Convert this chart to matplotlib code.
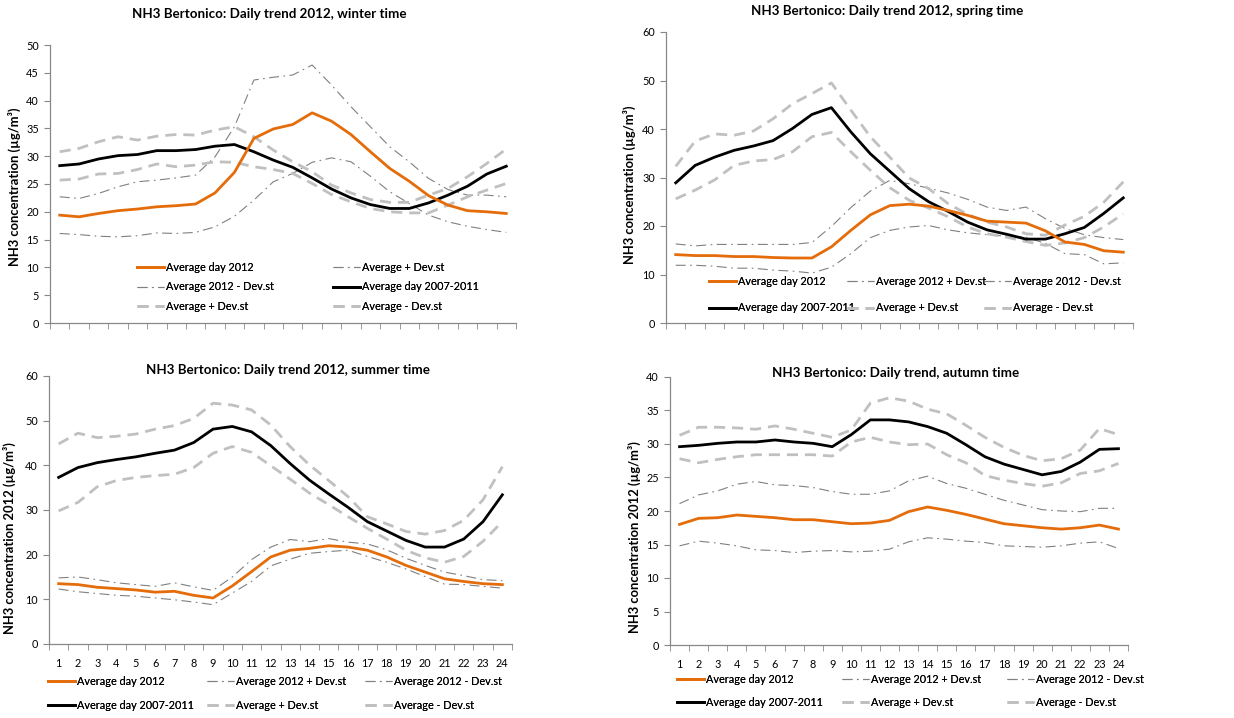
import numpy as np
import matplotlib
matplotlib.use("Agg")
import matplotlib.pyplot as plt

plt.rcParams['font.family'] = ['Lato', 'DejaVu Sans']

hours = list(range(1, 25))

# winter
winter_avg_2012 = [19.4, 19.1, 19.7, 20.2, 20.5, 20.9, 21.1, 21.4, 23.4, 27.1, 33.2, 34.9,
                   35.7, 37.8, 36.3, 33.9, 30.8, 27.8, 25.5, 22.9, 21.2, 20.2, 20.0, 19.7]
winter_avg_2012_plus = [22.7, 22.4, 23.3, 24.5, 25.4, 25.7, 26.1, 26.6, 29.9, 35.3, 43.7, 44.2,
                        44.6, 46.4, 42.8, 38.9, 35.3, 31.7, 29.0, 26.0, 24.0, 23.0, 23.0, 22.7]
winter_avg_2012_minus = [16.1, 15.9, 15.6, 15.5, 15.7, 16.2, 16.1, 16.3, 17.3, 19.2, 22.1, 25.4,
                         26.9, 28.9, 29.7, 29.0, 26.4, 23.6, 21.5, 19.4, 18.2, 17.4, 16.8, 16.3]
winter_avg_0711 = [28.3, 28.6, 29.5, 30.1, 30.3, 31.0, 31.0, 31.2, 31.8, 32.1, 30.8, 29.3,
                   28.0, 26.1, 24.1, 22.5, 21.3, 20.6, 20.6, 21.6, 23.0, 24.6, 26.8, 28.2]
winter_avg_plus = [30.8, 31.4, 32.6, 33.5, 32.9, 33.6, 33.9, 33.8, 34.7, 35.3, 33.5, 31.1,
                   29.0, 27.2, 24.8, 23.4, 22.2, 21.7, 21.7, 23.0, 24.2, 26.3, 28.7, 31.3]
winter_avg_minus = [25.7, 25.9, 26.8, 26.9, 27.6, 28.6, 28.1, 28.4, 29.0, 28.9, 28.1, 27.6,
                    26.9, 25.1, 23.1, 21.8, 20.6, 20.0, 19.8, 19.8, 21.2, 22.7, 23.9, 25.1]

# spring
spring_avg_2012 = [14.1, 13.9, 13.9, 13.7, 13.7, 13.5, 13.4, 13.4, 15.7, 19.1, 22.3, 24.2,
                   24.5, 24.1, 23.2, 22.2, 21.0, 20.8, 20.6, 19.0, 16.7, 16.2, 14.9, 14.6]
spring_avg_2012_plus = [16.3, 15.9, 16.2, 16.2, 16.2, 16.2, 16.2, 16.6, 19.9, 23.8, 27.2, 29.4,
                        28.7, 27.8, 26.8, 25.5, 23.9, 23.2, 23.9, 21.5, 19.5, 18.2, 17.6, 17.2]
spring_avg_2012_minus = [11.9, 11.9, 11.7, 11.3, 11.3, 10.9, 10.7, 10.3, 11.5, 14.3, 17.6, 19.1,
                         19.8, 20.1, 19.2, 18.6, 18.2, 17.9, 17.7, 16.4, 14.3, 14.1, 12.2, 12.4]
spring_avg_0711 = [28.9, 32.5, 34.2, 35.6, 36.5, 37.6, 40.1, 43.0, 44.4, 39.4, 34.9, 31.3,
                   27.7, 25.0, 23.0, 20.8, 19.2, 18.3, 17.3, 17.3, 18.4, 19.7, 22.6, 25.8]
spring_avg_plus = [32.3, 37.5, 39.0, 38.7, 39.6, 42.1, 45.2, 47.3, 49.5, 43.9, 38.4, 34.2,
                   29.9, 27.7, 24.6, 22.4, 20.8, 19.8, 18.4, 18.1, 20.2, 22.0, 24.9, 29.1]
spring_avg_minus = [25.6, 27.4, 29.5, 32.5, 33.4, 33.7, 35.3, 38.4, 39.3, 35.3, 31.5, 27.9,
                    25.3, 23.7, 21.9, 19.8, 18.4, 17.7, 16.8, 16.0, 16.5, 17.6, 19.8, 22.5]

# summer
summer_avg_2012 = [13.5, 13.3, 12.7, 12.4, 12.1, 11.6, 11.8, 10.9, 10.3, 13.0, 16.2, 19.5,
                   21.0, 21.4, 22.0, 21.7, 21.0, 19.5, 17.6, 16.1, 14.6, 14.0, 13.5, 13.3]
summer_avg_2012_plus = [14.8, 15.0, 14.4, 13.7, 13.3, 12.9, 13.7, 12.8, 12.0, 15.0, 18.9, 21.7,
                        23.4, 22.9, 23.6, 22.8, 22.4, 21.1, 19.2, 17.6, 16.1, 15.3, 14.4, 14.2]
summer_avg_2012_minus = [12.3, 11.7, 11.3, 10.9, 10.7, 10.3, 9.9, 9.4, 8.8, 11.4, 14.0, 17.5,
                         19.0, 20.3, 20.7, 21.0, 19.6, 18.3, 16.8, 15.1, 13.4, 13.3, 12.9, 12.5]
summer_avg_0711 = [37.3, 39.5, 40.6, 41.3, 41.9, 42.7, 43.4, 45.1, 48.1, 48.7, 47.5, 44.4,
                   40.4, 36.7, 33.6, 30.6, 27.4, 25.3, 23.2, 21.7, 21.7, 23.5, 27.4, 33.4]
summer_avg_plus = [44.8, 47.2, 46.2, 46.5, 47.0, 48.1, 48.9, 50.5, 53.9, 53.5, 52.4, 49.0,
                   44.2, 40.1, 36.6, 33.0, 28.5, 26.9, 25.2, 24.6, 25.4, 27.7, 32.3, 39.7]
summer_avg_minus = [29.8, 31.7, 35.2, 36.6, 37.3, 37.7, 38.0, 39.5, 42.7, 44.2, 42.9, 39.9,
                    36.9, 33.8, 31.2, 28.5, 25.9, 23.5, 21.0, 19.3, 18.3, 19.6, 23.0, 27.4]

# autumn
autumn_avg_2012 = [18.0, 18.9, 19.0, 19.4, 19.2, 19.0, 18.7, 18.7, 18.4, 18.1, 18.2, 18.6,
                   19.9, 20.6, 20.1, 19.5, 18.8, 18.1, 17.8, 17.5, 17.3, 17.5, 17.9, 17.3]
autumn_avg_2012_plus = [21.1, 22.4, 23.0, 24.0, 24.4, 23.9, 23.8, 23.5, 22.9, 22.5, 22.5, 23.0,
                        24.5, 25.2, 24.1, 23.4, 22.5, 21.6, 20.9, 20.2, 20.0, 19.9, 20.4, 20.4]
autumn_avg_2012_minus = [14.8, 15.5, 15.2, 14.8, 14.2, 14.1, 13.8, 14.0, 14.1, 13.9, 14.0, 14.3,
                         15.4, 16.0, 15.8, 15.5, 15.3, 14.8, 14.7, 14.6, 14.8, 15.2, 15.4, 14.4]
autumn_avg_0711 = [29.6, 29.8, 30.1, 30.3, 30.3, 30.6, 30.3, 30.1, 29.6, 31.4, 33.6, 33.6,
                   33.3, 32.6, 31.6, 29.9, 28.1, 27.0, 26.2, 25.4, 25.9, 27.3, 29.2, 29.3]
autumn_avg_plus = [31.3, 32.5, 32.5, 32.4, 32.2, 32.7, 32.2, 31.6, 31.0, 32.1, 36.1, 36.9,
                   36.4, 35.2, 34.5, 32.8, 31.0, 29.5, 28.3, 27.5, 27.8, 29.1, 32.3, 31.4]
autumn_avg_minus = [27.8, 27.2, 27.7, 28.1, 28.4, 28.4, 28.4, 28.4, 28.2, 30.3, 31.0, 30.3,
                    29.9, 30.0, 28.4, 27.2, 25.3, 24.6, 24.1, 23.7, 24.2, 25.6, 26.0, 27.1]

ORANGE = '#E46C0A'
DDGRAY = '#808080'
LTGRAY = '#C0C0C0'
LEG_FS = 7.8
TITLE_FS = 9.6
YLAB_FS = 9.4

W, H = 1234, 718
fig = plt.figure(figsize=(W / 100, H / 100), dpi=100)


def px_axes(l, t, r, b):
    return fig.add_axes([l / W, 1 - b / H, (r - l) / W, (b - t) / H])


def draw(ax, series, labels, ymax, ystep, xlabels):
    styles = [dict(color=ORANGE, lw=2.0, zorder=5),
              dict(color=DDGRAY, lw=0.8, ls=(0, (9, 4, 1.5, 4))),
              dict(color=DDGRAY, lw=0.8, ls=(0, (9, 4, 1.5, 4))),
              dict(color='black', lw=2.0, zorder=4),
              dict(color=LTGRAY, lw=2.0, ls=(0, (4, 2.5))),
              dict(color=LTGRAY, lw=2.0, ls=(0, (4, 2.5)))]
    handles = []
    for s, lab, st in zip(series, labels, styles):
        h, = ax.plot(hours, s, label=lab, **st)
        handles.append(h)
    ax.set_xlim(0.5, 24.5)
    ax.set_ylim(0, ymax)
    ax.set_yticks(np.arange(0, ymax + 0.1, ystep))
    ax.set_xticks(hours)
    ax.set_xticks(np.arange(0.5, 25, 1), minor=True)
    ax.tick_params(axis='x', which='major', length=0, labelsize=7.8, pad=10,
                   labelbottom=xlabels)
    ax.tick_params(axis='x', which='minor', length=4, color='#888888', direction='out')
    ax.tick_params(axis='y', length=4, color='#888888', labelsize=7.8, pad=4)
    for sp in ['top', 'right']:
        ax.spines[sp].set_visible(False)
    for sp in ['left', 'bottom']:
        ax.spines[sp].set_color('#888888')
        ax.spines[sp].set_linewidth(0.9)
    return handles


def legend_cols(cols, x_list, y_top, row_gap):
    for col, x in zip(cols, x_list):
        lg = fig.legend(handles=col, loc='upper left',
                        bbox_to_anchor=(x / W, 1 - y_top / H), frameon=False,
                        fontsize=LEG_FS, handlelength=2.5, handletextpad=0.2,
                        borderpad=0, borderaxespad=0, labelspacing=row_gap)
        fig.add_artist(lg)


def ftext(x, y, s, **kw):
    fig.text(x / W, 1 - y / H, s, ha='center', va='center', **kw)


labels_std = ['Average day 2012', 'Average 2012 + Dev.st', 'Average 2012 - Dev.st',
              'Average day 2007-2011', 'Average + Dev.st', 'Average - Dev.st']

# winter
ax1 = px_axes(50, 45, 516, 323)
h = draw(ax1, [winter_avg_2012, winter_avg_2012_plus, winter_avg_2012_minus,
               winter_avg_0711, winter_avg_plus, winter_avg_minus],
         ['Average day 2012', 'Average + Dev.st', 'Average 2012 - Dev.st',
          'Average day 2007-2011', 'Average + Dev.st', 'Average - Dev.st'],
         50, 5, False)
legend_cols([[h[0], h[2], h[4]], [h[1], h[3], h[5]]], [137, 333], 262, 0.78)
ftext(269, 14, 'NH3 Bertonico: Daily trend 2012, winter time', fontsize=TITLE_FS, fontweight='bold')
ftext(14, 187, 'NH3 concentration (µg/m³)', rotation=90, fontsize=YLAB_FS, fontweight='bold')

# spring
ax2 = px_axes(666, 32, 1133, 323)
h = draw(ax2, [spring_avg_2012, spring_avg_2012_plus, spring_avg_2012_minus,
               spring_avg_0711, spring_avg_plus, spring_avg_minus],
         labels_std, 60, 10, False)
legend_cols([[h[0], h[3]], [h[1], h[4]], [h[2], h[5]]], [709, 847, 984], 276, 1.42)
ftext(887, 11, 'NH3 Bertonico: Daily trend 2012, spring time', fontsize=TITLE_FS, fontweight='bold')
ftext(629, 185, 'NH3 concentration (µg/m³)', rotation=90, fontsize=YLAB_FS, fontweight='bold')

# summer
ax3 = px_axes(49, 376, 512, 644)
h = draw(ax3, [summer_avg_2012, summer_avg_2012_plus, summer_avg_2012_minus,
               summer_avg_0711, summer_avg_plus, summer_avg_minus],
         labels_std, 60, 10, True)
legend_cols([[h[0], h[3]], [h[1], h[4]], [h[2], h[5]]], [48, 207, 365], 676, 1.22)
ftext(288, 370, 'NH3 Bertonico: Daily trend 2012, summer time', fontsize=TITLE_FS, fontweight='bold')
ftext(9, 538, 'NH3 concentration 2012 (µg/m³)', rotation=90, fontsize=YLAB_FS, fontweight='bold')

# autumn
ax4 = px_axes(670, 377, 1128, 645)
h = draw(ax4, [autumn_avg_2012, autumn_avg_2012_plus, autumn_avg_2012_minus,
               autumn_avg_0711, autumn_avg_plus, autumn_avg_minus],
         labels_std, 40, 5, True)
legend_cols([[h[0], h[3]], [h[1], h[4]], [h[2], h[5]]], [677, 842, 1007], 674, 1.12)
ftext(896, 373, 'NH3 Bertonico: Daily trend, autumn time', fontsize=TITLE_FS, fontweight='bold')
ftext(634, 537, 'NH3 concentration 2012 (µg/m³)', rotation=90, fontsize=YLAB_FS, fontweight='bold')

fig.savefig('out.png', dpi=100)
